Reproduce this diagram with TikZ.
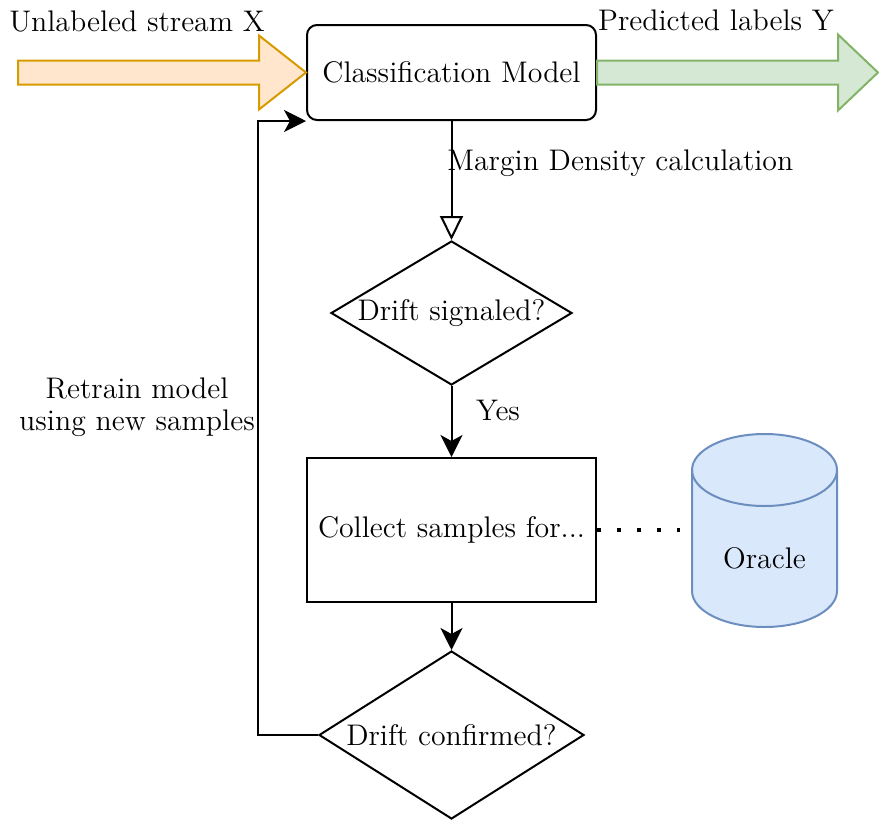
\documentclass[tikz,border=0pt]{standalone}
\usepackage{tikz}
\usetikzlibrary{shapes.geometric,arrows.meta,calc}
\definecolor{streamfill}{HTML}{FFE6CC}
\definecolor{streamline}{HTML}{D79B00}
\definecolor{labelfill}{HTML}{D5E8D4}
\definecolor{labelline}{HTML}{82B366}
\definecolor{oraclefill}{HTML}{DAE8FC}
\definecolor{oracleline}{HTML}{6C8EBF}

\begin{document}
\begin{tikzpicture}[x=0.5pt, y=-0.5pt, font=\fontsize{14.9}{17}\selectfont,
    box/.style={draw, line width=1pt, fill=white, minimum width=144.5pt, align=center},
    decision/.style={diamond, draw, line width=1pt, fill=white, inner sep=0pt},
    flow/.style={-{Stealth[length=11pt, width=11pt, inset=3pt]}, line width=1pt},
    bigarrow/.style={line width=1pt, line join=miter}]

    \useasboundingbox (0,0) rectangle (879,820);

    \node[box, rounded corners=5pt, minimum height=47.5pt] (model) at (451.5,72.5) {Classification Model};
    \node[decision, aspect=1.67, minimum width=120.5pt, minimum height=72pt] (signaled) at (451.5,313) {Drift signaled?};
    \node[box, minimum height=72pt] (collect) at (451.5,530) {Collect samples for...};
    \node[decision, aspect=1.58, minimum width=132.5pt, minimum height=84pt] (confirmed) at (451.5,735) {Drift confirmed?};

    % stream in, labels out
    \coordinate (xin) at (18,72.5);
    \coordinate (yout) at (878,72.5);
    \draw[bigarrow, draw=streamline, fill=streamfill] ($(xin)+(0,-12)$) -- ($(model.west)+(-47,-12)$) -- ($(model.west)+(-47,-37)$) -- (model.west)
        -- ($(model.west)+(-47,37)$) -- ($(model.west)+(-47,12)$) -- ($(xin)+(0,12)$) -- cycle;
    \draw[bigarrow, draw=labelline, fill=labelfill] ($(model.east)+(0,-12)$) -- ($(yout)+(-40,-12)$) -- ($(yout)+(-40,-38)$) -- (yout)
        -- ($(yout)+(-40,38)$) -- ($(yout)+(-40,12)$) -- ($(model.east)+(0,12)$) -- cycle;
    \node (xlabel) at (137,21) {Unlabeled stream X};
    \node (ylabel) at (716,20) {Predicted labels Y};

    \draw[line width=1pt, -{Triangle[open, length=12pt, width=11.5pt]}] (model) -- (signaled);
    \node[anchor=west, inner sep=0pt] (mdlabel) at (447,163) {Margin Density calculation};
    \draw[flow] (signaled) -- (collect);
    \node (yes) at (498,410) {Yes};
    \draw[flow] (collect) -- (confirmed);
    \draw[flow] (confirmed.west) -- ++(-60,0) |- (model.south west);
    \node[align=center] (retrain) at (137,407) {Retrain model\\[-1pt] using new samples};

    % oracle cylinder
    \draw[line width=1pt, draw=oracleline, fill=oraclefill] (692,470) -- (692,591)
        arc[start angle=180, end angle=360, x radius=36.25pt, y radius=18pt] -- (837,470)
        arc[start angle=0, end angle=180, x radius=36.25pt, y radius=18pt] -- cycle;
    \draw[line width=1pt, draw=oracleline] (692,470) arc[start angle=180, end angle=360, x radius=36.25pt, y radius=18pt];
    \node (oracle) at (764.5,558) {Oracle};
    \coordinate (oraclein) at (680,530);
    \draw[line width=2pt, dash pattern=on 2pt off 8pt] (collect.east) -- (oraclein);

\end{tikzpicture}
\end{document}
